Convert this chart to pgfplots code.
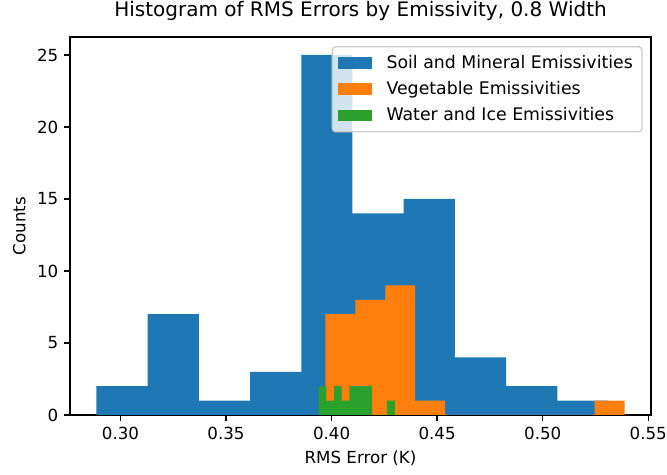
\documentclass[border=0pt]{standalone}
\usepackage{pgfplots}
\pgfplotsset{compat=1.18}
\usepackage{fontspec}
\setmainfont{DejaVu Sans}
\definecolor{c0}{HTML}{1F77B4}
\definecolor{c1}{HTML}{FF7F0E}
\definecolor{c2}{HTML}{2CA02C}
\definecolor{legedge}{HTML}{CCCCCC}
\begin{document}
\begin{tikzpicture}
\begin{axis}[
  name=ax,
  scale only axis,
  width=348.6pt, height=226.8pt,
  xmin=0.2761, xmax=0.5513, ymin=0, ymax=26.25,
  xtick={0.30,0.35,0.40,0.45,0.50,0.55},
  ytick={0,5,10,15,20,25},
  xticklabel style={/pgf/number format/.cd, fixed, fixed zerofill, precision=2},
  /pgf/number format/assume math mode=true,
  tick pos=left,
  tick align=outside,
  major tick length=3.5pt,
  every tick/.style={black, line width=0.8pt},
  axis line style={black, line width=0.8pt},
  tick label style={font=\fontsize{10}{12}\selectfont, text=black},
  label style={font=\fontsize{10}{12}\selectfont},
  xlabel={RMS Error (K)},
  ylabel={Counts},
  title={Histogram of RMS Errors by Emissivity, 0.8 Width},
  title style={font=\fontsize{12}{14}\selectfont, at={(0.5,1)}, anchor=base, yshift=6pt},
  legend cell align=left,
  legend style={at={(1,1)}, anchor=north east, xshift=-5pt, yshift=-5.5pt,
    draw=legedge, line width=0.8pt, rounded corners=2pt, fill=white, fill opacity=0.8, text opacity=1,
    font=\fontsize{10.4}{12}\selectfont, inner xsep=3.5pt, inner ysep=3pt, row sep=2.4pt, column sep=6.5pt,
    nodes={text=black}},
  legend image code/.code={\fill[#1, fill opacity=1, sharp corners] (0pt,-3.5pt) rectangle (20.5pt,3.5pt);},
]
\addplot[fill=c0, draw=none, const plot] coordinates {
 (0.28860,2) (0.31286,7) (0.33712,1) (0.36138,3) (0.38564,25)
 (0.40990,14) (0.43416,15) (0.45842,4) (0.48268,2) (0.50694,1) (0.53120,1)
} \closedcycle;
\addlegendentry{Soil and Mineral Emissivities}
\addplot[fill=c1, draw=none, const plot] coordinates {
 (0.39710,7) (0.41127,8) (0.42544,9) (0.43961,1) (0.45378,0)
 (0.46795,0) (0.48212,0) (0.49629,0) (0.51046,0) (0.52463,1) (0.53880,1)
} \closedcycle;
\addlegendentry{Vegetable Emissivities}
\addplot[fill=c2, draw=none, const plot] coordinates {
 (0.39399,2) (0.39759,1) (0.40118,2) (0.40478,1) (0.40837,2)
 (0.41197,2) (0.41556,2) (0.41916,0) (0.42275,0) (0.42635,1) (0.42994,1)
} \closedcycle;
\addlegendentry{Water and Ice Emissivities}
\end{axis}
\pgfresetboundingbox
\path ([xshift=-42pt,yshift=-36pt]ax.south west) rectangle ([xshift=9.6pt,yshift=22.2pt]ax.north east);
\end{tikzpicture}
\end{document}
